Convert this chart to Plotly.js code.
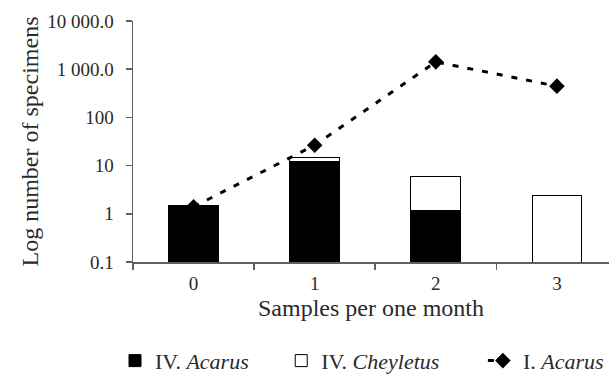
<!DOCTYPE html>
<html>
<head>
<meta charset="utf-8">
<script src="https://cdn.plot.ly/plotly-3.0.1.min.js"></script>
<style>html,body{margin:0;padding:0;background:#fff;}#chart{width:609px;height:386px;}</style>
</head>
<body>
<div id="chart"></div>
<script>
var categories = ['0', '1', '2', '3'];
var acarusIV = [1.5, 12.1, 1.15, null];
var cheyletusIV = [null, 2.5, 4.75, 2.4];
var acarusI = [1.4, 26.5, 1420, 445];
var yTickVals = [0.1, 1, 10, 100, 1000, 10000];
var yTickText = ['0.1', '1', '10', '100', '1 000.0', '10 000.0'];
var seriesNames = ['IV. <i>Acarus</i>', 'IV. <i>Cheyletus</i>', 'I. <i>Acarus</i>'];

var FONT = '"Liberation Serif", "Times New Roman", serif';
var TXT = '#2a2a2a';
var AX = '#606060';

// trailing non-breaking spaces widen the legend entries like the original spacing
function pad(n) { return new Array(n + 1).join('\u00a0'); }

var traces = [
  {
    type: 'bar', name: seriesNames[0] + pad(5), x: categories, y: acarusIV,
    width: 0.41,
    marker: {color: '#000000', line: {color: '#000000', width: 1}}
  },
  {
    type: 'bar', name: seriesNames[1] + pad(7), x: categories, y: cheyletusIV,
    width: 0.41,
    marker: {color: '#ffffff', line: {color: '#000000', width: 1}}
  },
  {
    type: 'scatter', mode: 'lines+markers', name: seriesNames[2], x: categories, y: acarusI,
    line: {color: '#000000', width: 3, dash: '6px,9px'},
    marker: {symbol: 'diamond', size: 12, color: '#000000'}
  }
];

var layout = {
  width: 609, height: 386,
  margin: {l: 133, r: 0, t: 21, b: 124},
  paper_bgcolor: '#ffffff', plot_bgcolor: '#ffffff',
  barmode: 'stack',
  font: {family: FONT, color: TXT, size: 19},
  showlegend: true,
  legend: {
    orientation: 'h', x: -0.026, xanchor: 'left', y: -0.41, yanchor: 'middle',
    font: {family: FONT, size: 22, color: TXT},
    itemwidth: 30, traceorder: 'normal'
  },
  xaxis: {
    type: 'category', range: [-0.5, 3.43],
    showgrid: false, zeroline: false,
    showline: true, linecolor: AX, linewidth: 1.5,
    ticks: 'outside', tickson: 'boundaries', ticklen: 6, tickcolor: AX, tickwidth: 1.5,
    tickfont: {family: FONT, size: 19, color: TXT},
    ticklabelstandoff: 4,
    title: {text: 'Samples per one month', font: {family: FONT, size: 24, color: TXT}, standoff: 6}
  },
  yaxis: {
    type: 'log', range: [-1, 4],
    showgrid: false, zeroline: false,
    showline: true, linecolor: AX, linewidth: 1.5,
    ticks: 'outside', ticklen: 6, tickcolor: AX, tickwidth: 1.5,
    tickvals: yTickVals, ticktext: yTickText,
    tickfont: {family: FONT, size: 19, color: TXT},
    ticklabelstandoff: 8,
    title: {text: 'Log number of specimens', font: {family: FONT, size: 24, color: TXT}, standoff: 2}
  }
};

Plotly.newPlot('chart', traces, layout, {displayModeBar: false, staticPlot: true});
</script>
</body>
</html>
